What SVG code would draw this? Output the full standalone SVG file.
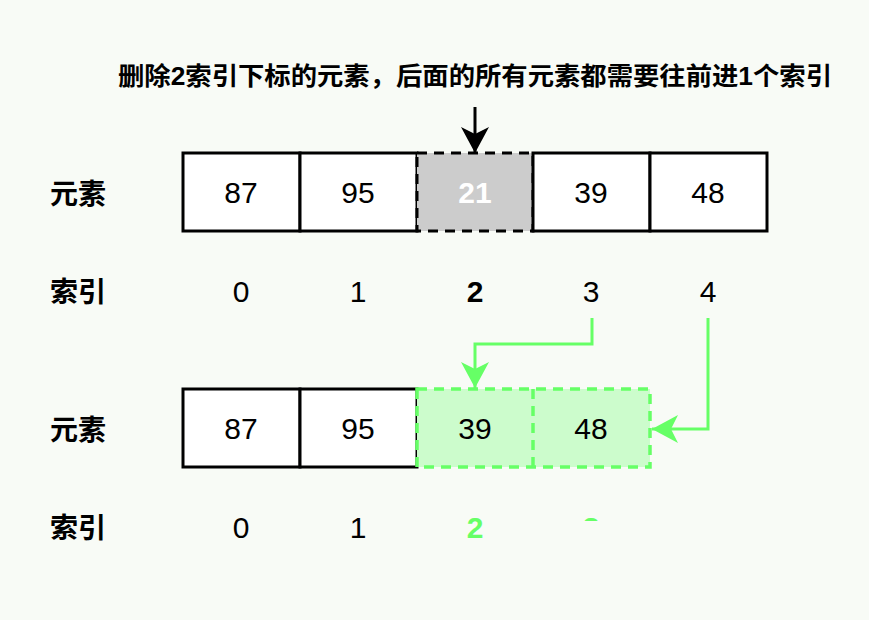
<svg xmlns="http://www.w3.org/2000/svg" width="869" height="620" viewBox="0 0 869 620">
<style>
text{font-family:"Liberation Sans","Noto Sans CJK SC",sans-serif;text-anchor:middle}
.c{fill:#fff;stroke:#000;stroke-width:3}
.v{font-size:30px}
.lb{font-size:28px;font-weight:bold;text-anchor:start}
.g{fill:#ccfccc;stroke:#66ff66;stroke-width:3.5;stroke-dasharray:10 7}
.gl{fill:none;stroke:#66ff66;stroke-width:3}
</style>
<defs>
<marker id="ag" markerWidth="28" markerHeight="28" refX="26" refY="14" orient="auto" markerUnits="userSpaceOnUse" viewBox="0 0 28 28"><path d="M0,0 L26,14 L0,28 L7,14 z" fill="#66ff66"/></marker>
<marker id="ak" markerWidth="28" markerHeight="28" refX="26" refY="14" orient="auto" markerUnits="userSpaceOnUse" viewBox="0 0 28 28"><path d="M0,0 L26,14 L0,28 L7,14 z" fill="#000"/></marker>
<clipPath id="cp"><rect x="560" y="480" width="60" height="41"/></clipPath>
</defs>
<rect width="869" height="620" fill="#f8fbf6"/>
<text x="475" y="85" font-size="25" font-weight="bold" textLength="714" lengthAdjust="spacingAndGlyphs">删除2索引下标的元素，后面的所有元素都需要往前进1个索引</text>
<g id="top-row">
<rect class="c" x="183" y="153" width="117" height="78"/><text class="v" x="241" y="203">87</text>
<rect class="c" x="300" y="153" width="117" height="78"/><text class="v" x="358" y="203">95</text>
<rect x="417" y="153" width="116" height="78" fill="#cccccc" stroke="#000" stroke-width="3" stroke-dasharray="10 7"/><text class="v" x="475" y="203" fill="#fff" font-weight="bold">21</text>
<rect class="c" x="533" y="153" width="117" height="78"/><text class="v" x="591" y="203">39</text>
<rect class="c" x="650" y="153" width="117" height="78"/><text class="v" x="708" y="203">48</text>
</g>
<g id="labels">
<text class="lb" x="50" y="204">元素</text>
<text class="lb" x="50" y="302">索引</text>
<text class="lb" x="50" y="440">元素</text>
<text class="lb" x="50" y="538">索引</text>
</g>
<g id="top-index">
<text class="v" x="241" y="302">0</text><text class="v" x="358" y="302">1</text><text class="v" x="475" y="302" font-weight="bold">2</text><text class="v" x="591" y="302">3</text><text class="v" x="708" y="302">4</text>
</g>
<g id="bottom-row">
<rect class="c" x="183" y="389" width="117" height="78"/><text class="v" x="241" y="439">87</text>
<rect class="c" x="300" y="389" width="117" height="78"/><text class="v" x="358" y="439">95</text>
<rect class="g" x="417" y="389" width="233" height="78"/>
<line x1="533" y1="389" x2="533" y2="467" stroke="#66ff66" stroke-width="3.5" stroke-dasharray="10 7"/>
<text class="v" x="475" y="439">39</text><text class="v" x="591" y="439">48</text>
</g>
<g id="bottom-index">
<text class="v" x="241" y="538">0</text><text class="v" x="358" y="538">1</text>
<text class="v" x="475" y="538" font-weight="bold" fill="#66ff66">2</text>
<text class="v" x="591" y="538" font-weight="bold" fill="#66ff66" clip-path="url(#cp)">3</text>
</g>
<g id="connectors">
<line x1="475" y1="107" x2="475" y2="153" stroke="#000" stroke-width="3" marker-end="url(#ak)"/>
<polyline class="gl" points="592,318 592,344 475,344 475,388" marker-end="url(#ag)"/>
<polyline class="gl" points="708,318 708,429 652,429" marker-end="url(#ag)"/>
</g>
</svg>
